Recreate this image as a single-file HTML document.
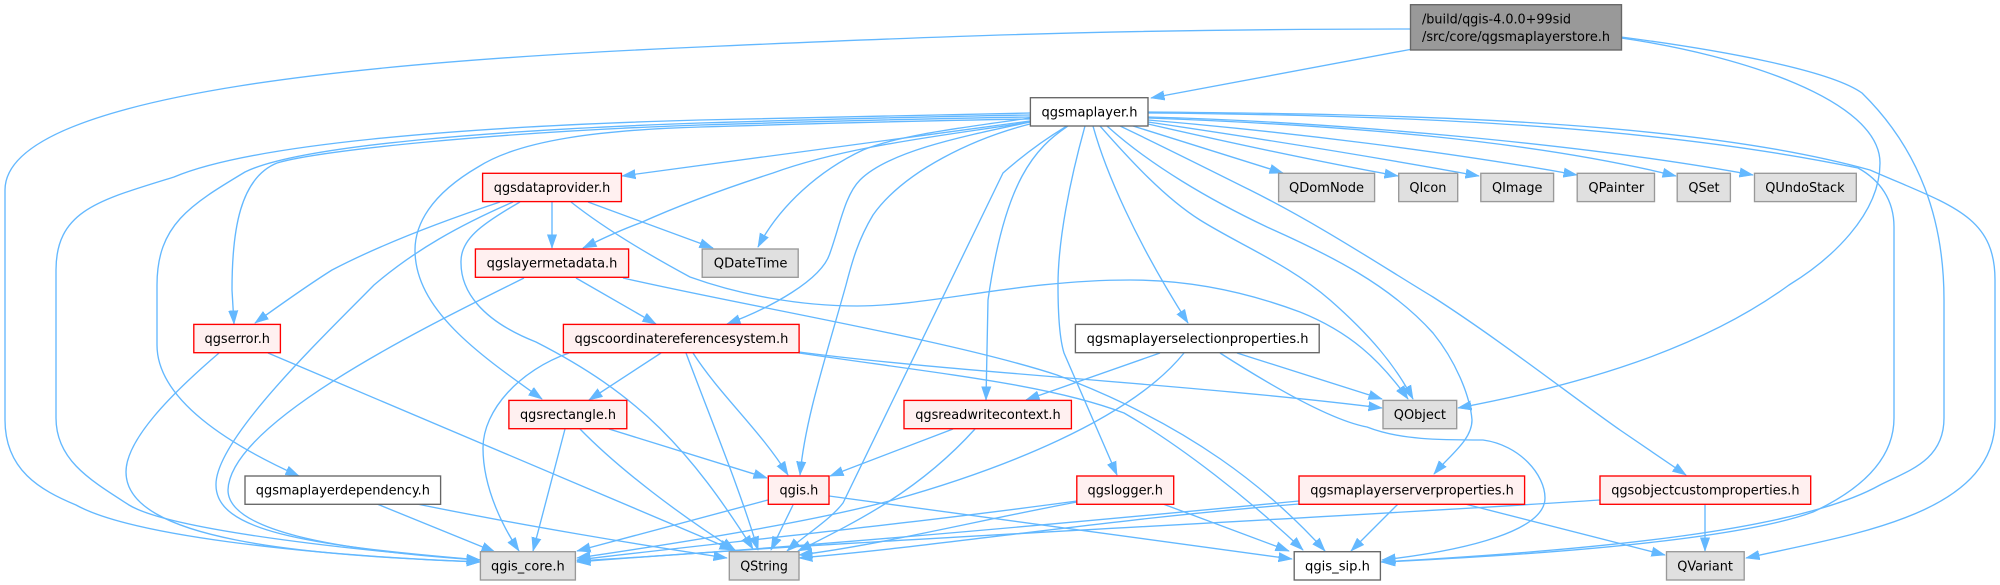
<!DOCTYPE html>
<html><head><meta charset="utf-8"><style>
html,body{margin:0;padding:0;background:#fff;width:2000px;height:585px;overflow:hidden}
svg{display:block}
text{font-family:"DejaVu Sans","Liberation Sans",sans-serif;font-size:13.4px;fill:#000}
.e path{fill:none;stroke:#63b8ff;stroke-width:1.35;marker-end:url(#a)}
.g{fill:#e0e0e0;stroke:#999;stroke-width:1.35}
.r{fill:#fff0f0;stroke:#f00;stroke-width:1.35}
.w{fill:#fff;stroke:#666;stroke-width:1.35}
.k{fill:#999;stroke:#666;stroke-width:1.35}
</style></head><body>
<svg width="2000" height="585" viewBox="0 0 2000 585" xmlns="http://www.w3.org/2000/svg">
<defs><marker id="a" markerUnits="userSpaceOnUse" markerWidth="16" markerHeight="12" refX="13.5" refY="6" orient="auto"><path d="M0,1.3L13.5,6L0,10.7z" fill="#63b8ff" stroke="#63b8ff" stroke-width="0.6"/></marker></defs>
<g class="e">
<!-- root -->
<path d="M1410,29C1100,29 900,38 700,47C400,60 5,90 5,190L5,420C5,470 40,490 76,505C130,535 300,555 480,562"/>
<path d="M1410,49.5L1151,98"/>
<path d="M1621,38C1740,55 1880,100 1880,163C1880,215 1830,260 1789,285C1700,350 1580,385 1458,408"/>
<path d="M1621,37C1720,50 1830,70 1862,93C1920,150 1944,220 1944,300L1944,418C1944,460 1910,470 1880,485C1800,530 1600,550 1381,562"/>
<!-- qgsmaplayer left -->
<path d="M1030,113C900,115 800,117 700,120C450,127 250,145 174,177C100,200 56,210 56,270L56,418C56,460 90,480 129,505C170,530 350,550 480,560"/>
<path d="M1030,115C900,117 800,120 700,123C500,130 300,145 245,172C190,205 157,225 157,285L157,345C157,400 230,445 299,476"/>
<path d="M1030,117C900,119 800,122 700,125C500,132 320,150 277,163C240,178 232,230 232,290L234,324"/>
<path d="M1030,121L622,176"/>
<path d="M1030,122C950,135 850,145 773,173C720,190 680,205 640,223C615,232 600,240 583,248"/>
<path d="M1030,118C960,128 900,135 863,150C820,170 780,205 758,247"/>
<path d="M1030,119C900,121 800,124 700,127C600,130 520,140 478,167C430,195 415,225 415,250C415,310 480,355 542,399"/>
<path d="M1030,122C970,135 890,150 860,180C845,195 840,225 830,253C822,280 770,308 727,324"/>
<path d="M1030,124C975,138 905,170 873,215C858,240 852,262 846,285C825,360 805,420 800,475"/>
<!-- qgsmaplayer bottom -->
<path d="M1067,126C1040,142 1020,158 1003,173L843,503C830,520 805,535 787,551"/>
<path d="M1068,126C1035,148 1005,180 988,300L986,400"/>
<path d="M1085,126C1070,180 1058,240 1058,285C1058,320 1060,340 1064,353L1117,475"/>
<path d="M1093,126C1105,170 1135,240 1188,323"/>
<path d="M1100,126C1130,160 1165,198 1200,220C1240,245 1290,265 1330,300C1370,335 1395,365 1413,399"/>
<path d="M1107,126C1150,165 1210,200 1267,227C1330,255 1390,285 1433,333C1455,360 1470,395 1472,420C1472,440 1450,455 1434,474"/>
<path d="M1120,126C1160,145 1210,170 1250,190C1320,225 1380,265 1433,297C1500,340 1570,395 1620,430L1686,475"/>
<path d="M1133,126L1283,173"/>
<path d="M1148,124C1240,145 1320,162 1398,176"/>
<path d="M1148,122C1270,140 1380,158 1479,176"/>
<path d="M1148,120C1290,132 1450,152 1577,175"/>
<path d="M1148,118C1340,125 1530,140 1676,176"/>
<path d="M1148,117C1340,122 1590,145 1753,175"/>
<path d="M1148,113C1400,115 1650,125 1858,168C1880,180 1894,200 1894,227L1894,418C1894,460 1860,490 1813,512C1750,535 1600,552 1382,562"/>
<path d="M1148,112C1400,114 1690,120 1870,170C1950,205 1995,215 1995,280L1995,420C1995,515 1850,535 1746,558"/>
<!-- dataprovider -->
<path d="M500,202C440,222 380,245 332,270C305,287 280,305 255,323"/>
<path d="M513,202C460,225 415,250 374,285C320,340 215,440 216,485C216,530 300,545 480,560"/>
<path d="M552,202L552,248"/>
<path d="M520,202C480,225 460,240 461,263C461,290 480,320 536,342C640,395 690,450 753,549"/>
<path d="M588,202L713,248"/>
<path d="M571,202C600,225 640,250 690,277C740,295 800,306 857,306C930,306 1020,280 1130,280C1200,280 1260,297 1300,312C1350,332 1380,360 1408,399"/>
<!-- layermetadata -->
<path d="M524,278C440,320 230,420 228,490C228,530 330,550 480,560"/>
<path d="M576,278L656,324"/>
<path d="M623,278C740,305 950,340 1057,375C1190,425 1270,490 1325,551"/>
<!-- error -->
<path d="M219,353C170,395 126,440 126,472C126,540 300,555 480,562"/>
<path d="M268,353L733,550"/>
<!-- coordsys -->
<path d="M569,353C520,370 483,410 483,448C483,490 505,530 519,551"/>
<path d="M661,353L589,400"/>
<path d="M693,353C720,395 760,430 788,475"/>
<path d="M686,353C715,430 740,490 758,550"/>
<path d="M799,352C950,372 1200,385 1382,408"/>
<path d="M799,353C950,375 1050,385 1124,413C1180,445 1250,500 1303,550"/>
<!-- rectangle -->
<path d="M565,429L533,551"/>
<path d="M609,429L767,478"/>
<path d="M580,429C620,470 680,515 735,550"/>
<!-- dependency -->
<path d="M377,504L495,552"/>
<path d="M417,504C520,525 640,545 727,558"/>
<!-- qgis.h -->
<path d="M768,500L577,551"/>
<path d="M793,505L771,550"/>
<path d="M829,496L1292,559"/>
<!-- readwrite -->
<path d="M953,429L830,476"/>
<path d="M975,429C920,490 860,520 798,551"/>
<!-- logger -->
<path d="M1077,501C900,525 700,545 577,560"/>
<path d="M1077,502C980,520 880,545 799,555"/>
<path d="M1163,504L1289,551"/>
<!-- server props -->
<path d="M1299,501C1100,520 800,548 577,561"/>
<path d="M1299,504C1100,520 950,545 799,558"/>
<path d="M1398,504L1351,551"/>
<path d="M1465,504L1665,555"/>
<!-- custom props -->
<path d="M1600,500C1300,520 850,540 577,562"/>
<path d="M1705,504L1705,551"/>
<!-- selection props -->
<path d="M1160,353L1026,400"/>
<path d="M1184,353C1130,420 1000,470 893,500C820,520 700,540 577,558"/>
<path d="M1237,353L1382,399"/>
<path d="M1220,353C1270,385 1330,420 1367,427C1400,440 1440,440 1483,440C1520,445 1545,475 1545,498C1545,530 1470,550 1382,560"/>
</g>
<rect class="k" x="1410.5" y="4.7" width="211" height="45.3"/>
<text x="1422" y="23.5" textLength="149" lengthAdjust="spacingAndGlyphs">/build/qgis-4.0.0+99sid</text>
<text x="1422" y="41" textLength="188" lengthAdjust="spacingAndGlyphs">/src/core/qgsmaplayerstore.h</text>
<rect class="w" x="1030.4" y="97.7" width="117.6" height="28.3"/><text x="1041.5" y="116.5" textLength="96" lengthAdjust="spacingAndGlyphs">qgsmaplayer.h</text>
<rect class="r" x="482.6" y="173.3" width="138.8" height="28.3"/><text x="493.8" y="192" textLength="116.5" lengthAdjust="spacingAndGlyphs">qgsdataprovider.h</text>
<rect class="g" x="1278.6" y="173.3" width="96" height="28.3"/><text x="1289" y="192" textLength="75" lengthAdjust="spacingAndGlyphs">QDomNode</text>
<rect class="g" x="1398.7" y="173.3" width="59" height="28.3"/><text x="1409.4" y="192" textLength="37" lengthAdjust="spacingAndGlyphs">QIcon</text>
<rect class="g" x="1480.8" y="173.3" width="72.8" height="28.3"/><text x="1492" y="192" textLength="50.4" lengthAdjust="spacingAndGlyphs">QImage</text>
<rect class="g" x="1577.2" y="173.3" width="77.3" height="28.3"/><text x="1588.4" y="192" textLength="55.8" lengthAdjust="spacingAndGlyphs">QPainter</text>
<rect class="g" x="1677.2" y="173.3" width="53.2" height="28.3"/><text x="1688.4" y="192" textLength="31.2" lengthAdjust="spacingAndGlyphs">QSet</text>
<rect class="g" x="1754.5" y="173.3" width="101.8" height="28.3"/><text x="1765.2" y="192" textLength="79.4" lengthAdjust="spacingAndGlyphs">QUndoStack</text>
<rect class="r" x="475.4" y="249" width="153.2" height="28.3"/><text x="486.6" y="267.7" textLength="130.8" lengthAdjust="spacingAndGlyphs">qgslayermetadata.h</text>
<rect class="g" x="702.2" y="249" width="96" height="28.3"/><text x="713.8" y="267.7" textLength="73.7" lengthAdjust="spacingAndGlyphs">QDateTime</text>
<rect class="r" x="193.8" y="324.4" width="86.6" height="28.3"/><text x="204.5" y="343" textLength="65.5" lengthAdjust="spacingAndGlyphs">qgserror.h</text>
<rect class="r" x="563.4" y="324.4" width="235.7" height="28.3"/><text x="574.5" y="343" textLength="213.9" lengthAdjust="spacingAndGlyphs">qgscoordinatereferencesystem.h</text>
<rect class="w" x="1075.4" y="324.4" width="243.8" height="28.3"/><text x="1086.6" y="343" textLength="221.9" lengthAdjust="spacingAndGlyphs">qgsmaplayerselectionproperties.h</text>
<rect class="r" x="508.9" y="400.4" width="117.9" height="28.3"/><text x="520" y="419" textLength="96" lengthAdjust="spacingAndGlyphs">qgsrectangle.h</text>
<rect class="r" x="904" y="400.4" width="167.4" height="28.3"/><text x="915.2" y="419" textLength="145.5" lengthAdjust="spacingAndGlyphs">qgsreadwritecontext.h</text>
<rect class="g" x="1383" y="400.4" width="73.7" height="28.3"/><text x="1393.8" y="419" textLength="52.2" lengthAdjust="spacingAndGlyphs">QObject</text>
<rect class="w" x="245" y="476" width="195.6" height="28.3"/><text x="255.8" y="494.7" textLength="174.2" lengthAdjust="spacingAndGlyphs">qgsmaplayerdependency.h</text>
<rect class="r" x="768.3" y="476" width="60.7" height="28.3"/><text x="779.5" y="494.7" textLength="38.8" lengthAdjust="spacingAndGlyphs">qgis.h</text>
<rect class="r" x="1076.8" y="476" width="96.9" height="28.3"/><text x="1087.5" y="494.7" textLength="75.5" lengthAdjust="spacingAndGlyphs">qgslogger.h</text>
<rect class="r" x="1299" y="476" width="225.6" height="28.3"/><text x="1310.3" y="494.7" textLength="203.5" lengthAdjust="spacingAndGlyphs">qgsmaplayerserverproperties.h</text>
<rect class="r" x="1600" y="476" width="210.7" height="28.3"/><text x="1611.2" y="494.7" textLength="188.4" lengthAdjust="spacingAndGlyphs">qgsobjectcustomproperties.h</text>
<rect class="g" x="480.4" y="551.7" width="95" height="28.3"/><text x="491" y="570.4" textLength="73.7" lengthAdjust="spacingAndGlyphs">qgis_core.h</text>
<rect class="g" x="729.3" y="551.7" width="69.7" height="28.3"/><text x="740.2" y="570.4" textLength="47.8" lengthAdjust="spacingAndGlyphs">QString</text>
<rect class="w" x="1294.2" y="551.7" width="86.2" height="28.3"/><text x="1305" y="570.4" textLength="65" lengthAdjust="spacingAndGlyphs">qgis_sip.h</text>
<rect class="g" x="1666.5" y="551.7" width="77.7" height="28.3"/><text x="1677.2" y="570.4" textLength="55.8" lengthAdjust="spacingAndGlyphs">QVariant</text>
</svg>
</body></html>
